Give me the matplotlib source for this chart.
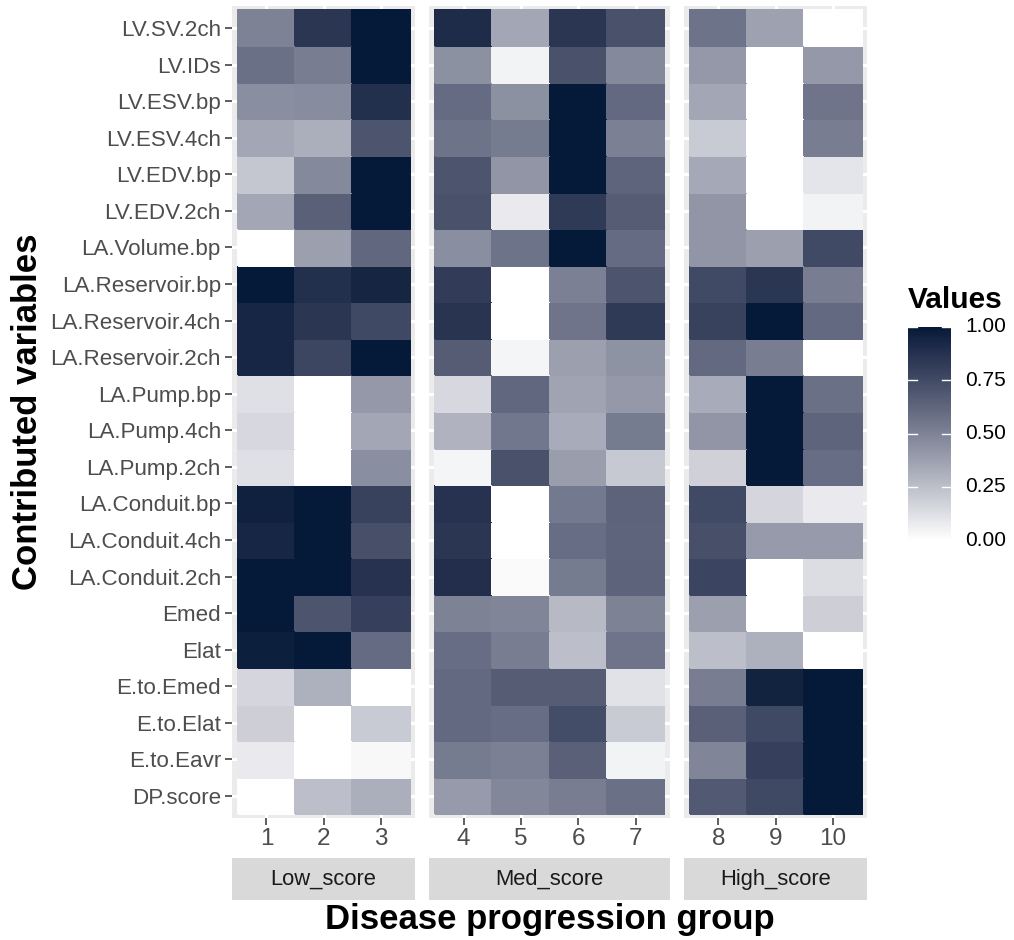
import numpy as np
import matplotlib
matplotlib.use("Agg")
import matplotlib.pyplot as plt
from matplotlib.colors import ListedColormap

plt.rcParams['font.family'] = ['Liberation Sans', 'DejaVu Sans']

# ---------------- data ----------------
variables = ["LV.SV.2ch", "LV.IDs", "LV.ESV.bp", "LV.ESV.4ch", "LV.EDV.bp", "LV.EDV.2ch",
             "LA.Volume.bp", "LA.Reservoir.bp", "LA.Reservoir.4ch", "LA.Reservoir.2ch",
             "LA.Pump.bp", "LA.Pump.4ch", "LA.Pump.2ch", "LA.Conduit.bp", "LA.Conduit.4ch",
             "LA.Conduit.2ch", "Emed", "Elat", "E.to.Emed", "E.to.Elat", "E.to.Eavr", "DP.score"]

groups = ["Low_score", "Med_score", "High_score"]
group_clusters = [[1, 2, 3], [4, 5, 6, 7], [8, 9, 10]]

# values per cluster (column), listed top-to-bottom in the order of `variables`
c1 = [0.50, 0.58, 0.45, 0.35, 0.22, 0.35, 0.00, 1.00, 0.93, 0.93, 0.12, 0.15, 0.12,
      0.96, 0.93, 1.00, 1.00, 0.97, 0.16, 0.19, 0.08, 0.00]
c2 = [0.85, 0.52, 0.46, 0.32, 0.47, 0.65, 0.38, 0.88, 0.85, 0.77, 0.00, 0.00, 0.00,
      1.00, 1.00, 1.00, 0.70, 1.00, 0.31, 0.00, 0.00, 0.25]
c3 = [1.00, 1.00, 0.88, 0.70, 1.00, 1.00, 0.62, 0.94, 0.76, 1.00, 0.41, 0.35, 0.45,
      0.79, 0.73, 0.87, 0.80, 0.60, 0.00, 0.20, 0.03, 0.32]
c4 = [0.90, 0.44, 0.60, 0.57, 0.70, 0.72, 0.45, 0.82, 0.86, 0.67, 0.15, 0.30, 0.04,
      0.87, 0.85, 0.89, 0.50, 0.59, 0.61, 0.61, 0.53, 0.40]
c5 = [0.35, 0.05, 0.44, 0.53, 0.42, 0.08, 0.57, 0.00, 0.00, 0.04, 0.62, 0.55, 0.72,
      0.00, 0.00, 0.02, 0.49, 0.52, 0.67, 0.59, 0.51, 0.48]
c6 = [0.85, 0.72, 1.00, 1.00, 1.00, 0.83, 1.00, 0.51, 0.56, 0.38, 0.36, 0.33, 0.39,
      0.54, 0.59, 0.53, 0.27, 0.25, 0.67, 0.74, 0.65, 0.52]
c7 = [0.72, 0.47, 0.61, 0.51, 0.63, 0.67, 0.60, 0.70, 0.83, 0.43, 0.41, 0.53, 0.21,
      0.64, 0.63, 0.64, 0.50, 0.56, 0.11, 0.20, 0.05, 0.58]
c8 = [0.57, 0.41, 0.35, 0.20, 0.34, 0.42, 0.42, 0.75, 0.79, 0.61, 0.33, 0.42, 0.18,
      0.75, 0.73, 0.78, 0.38, 0.25, 0.52, 0.65, 0.49, 0.68]
c9 = [0.37, 0.00, 0.00, 0.00, 0.00, 0.00, 0.38, 0.85, 1.00, 0.52, 1.00, 1.00, 1.00,
      0.16, 0.40, 0.00, 0.00, 0.31, 0.95, 0.76, 0.80, 0.76]
c10 = [0.00, 0.41, 0.56, 0.52, 0.10, 0.05, 0.75, 0.52, 0.61, 0.00, 0.58, 0.63, 0.59,
       0.08, 0.40, 0.13, 0.19, 0.00, 1.00, 1.00, 1.00, 1.00]

columns = [c1, c2, c3, c4, c5, c6, c7, c8, c9, c10]
legend_ticks = [0.0, 0.25, 0.5, 0.75, 1.0]

# ---------------- colour scale (Lab interpolation white -> navy, like ggplot) ----------------
def srgb_to_lab(rgb):
    rgb = np.asarray(rgb, float)
    lin = np.where(rgb <= 0.04045, rgb / 12.92, ((rgb + 0.055) / 1.055) ** 2.4)
    M = np.array([[0.4124564, 0.3575761, 0.1804375],
                  [0.2126729, 0.7151522, 0.0721750],
                  [0.0193339, 0.1191920, 0.9503041]])
    xyz = M @ lin
    wp = np.array([0.95047, 1.0, 1.08883])
    f = xyz / wp
    f = np.where(f > 0.008856, np.cbrt(f), 7.787 * f + 16 / 116)
    return np.array([116 * f[1] - 16, 500 * (f[0] - f[1]), 200 * (f[1] - f[2])])

def lab_to_srgb(lab):
    L, a, b = lab
    fy = (L + 16) / 116
    fx = fy + a / 500
    fz = fy - b / 200
    f = np.array([fx, fy, fz])
    xyz = np.where(f ** 3 > 0.008856, f ** 3, (f - 16 / 116) / 7.787)
    xyz = xyz * np.array([0.95047, 1.0, 1.08883])
    Minv = np.array([[3.2404542, -1.5371385, -0.4985314],
                     [-0.9692660, 1.8760108, 0.0415560],
                     [0.0556434, -0.2040259, 1.0572252]])
    lin = np.clip(Minv @ xyz, 0, 1)
    rgb = np.where(lin <= 0.0031308, 12.92 * lin, 1.055 * lin ** (1 / 2.4) - 0.055)
    return np.clip(rgb, 0, 1)

low_rgb = np.array([1.0, 1.0, 1.0])
high_rgb = np.array([0x04, 0x1A, 0x38]) / 255.0
lab_lo, lab_hi = srgb_to_lab(low_rgb), srgb_to_lab(high_rgb)
ramp = [lab_to_srgb(lab_lo + t * (lab_hi - lab_lo)) for t in np.linspace(0, 1, 256)]
cmap = ListedColormap(ramp)

# ---------------- layout ----------------
W, H = 1014, 940
fig = plt.figure(figsize=(W / 100, H / 100), dpi=100)
fig.patch.set_facecolor("white")

def px_axes(x0, y0, x1, y1):
    return fig.add_axes([x0 / W, 1 - y1 / H, (x1 - x0) / W, (y1 - y0) / H])

nrow = len(variables)
panel_top, panel_bot = 6, 818
unit = 57.3
gap = 14
x_start = 232
ypos = np.arange(nrow)[::-1]

x = x_start
for gi, (gname, clist) in enumerate(zip(groups, group_clusters)):
    n = len(clist)
    w = (n + 0.2) * unit
    ax = px_axes(x, panel_top, x + w, panel_bot)
    ax.set_facecolor("#EBEBEB")
    ax.set_axisbelow(True)
    data = np.array([columns[c - 1] for c in clist]).T[::-1]
    xe = np.arange(n + 1) + 0.5
    ye = np.arange(nrow + 1) - 0.5
    ax.pcolormesh(xe, ye, data, cmap=cmap, vmin=0, vmax=1, shading="flat",
                  edgecolor="face", linewidth=0.3, zorder=2)
    ax.set_xlim(0.4, n + 0.6)
    ax.set_ylim(-0.6, nrow - 0.4)
    ax.set_xticks(np.arange(1, n + 1))
    ax.set_xticklabels([str(c) for c in clist])
    ax.set_yticks(ypos)
    ax.set_yticklabels(variables if gi == 0 else [])
    ax.grid(True, color="white", linewidth=2.2, zorder=0)
    for s in ax.spines.values():
        s.set_visible(False)
    ax.tick_params(axis="both", colors="#333333", length=5, width=1.1)
    ax.tick_params(axis="x", labelcolor="#4D4D4D", labelsize=17.5, pad=2.5)
    ax.tick_params(axis="y", labelcolor="#4D4D4D", labelsize=16.1, pad=3)
    if gi != 0:
        ax.tick_params(axis="y", length=0)
    sax = px_axes(x, 858, x + w, 900)
    sax.set_facecolor("#D9D9D9")
    sax.set_xticks([]); sax.set_yticks([])
    for s in sax.spines.values():
        s.set_visible(False)
    sax.text(0.5, 0.5, gname, ha="center", va="center", fontsize=15.8,
             color="#1A1A1A", transform=sax.transAxes)
    x = x + w + gap

x_end = x - gap
fig.text(((x_start + x_end) / 2) / W, 1 - 919 / H, "Disease progression group",
         ha="center", va="center", fontsize=25, fontweight="bold", color="black")
fig.text(28 / W, 1 - ((panel_top + panel_bot) / 2) / H, "Contributed variables",
         ha="center", va="center", rotation=90, fontsize=25, fontweight="bold", color="black")

# ---------------- colourbar legend ----------------
cb_top, cb_bot = 327, 540
cax = px_axes(908, cb_top, 951, cb_bot)
grad = np.linspace(0, 1, 256).reshape(-1, 1)
cax.imshow(grad, aspect="auto", cmap=cmap, origin="lower", extent=(0, 1, 0, 1))
cax.set_xlim(0, 1); cax.set_ylim(0, 1)
cax.set_xticks([]); cax.set_yticks([])
for s in cax.spines.values():
    s.set_visible(False)
for t in legend_ticks:
    cax.plot([0, 0.2], [t, t], color="white", linewidth=1.0)
    cax.plot([0.8, 1], [t, t], color="white", linewidth=1.0)
    fig.text(965 / W, 1 - (cb_bot - t * (cb_bot - cb_top)) / H, f"{t:.2f}",
             ha="left", va="center", fontsize=15, color="black")
fig.text(908 / W, 1 - 300 / H, "Values", ha="left", va="center",
         fontsize=21.5, fontweight="bold", color="black")

fig.savefig("out.png", dpi=100)
